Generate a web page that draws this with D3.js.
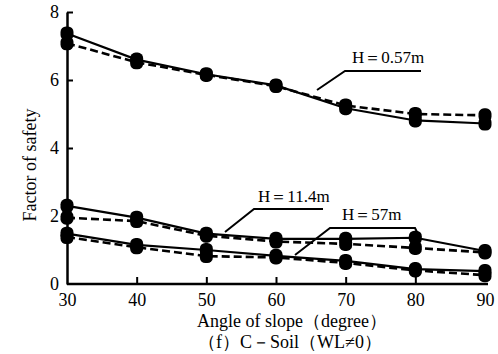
<!DOCTYPE html>
<html>
<head>
<meta charset="utf-8">
<script src="https://cdn.jsdelivr.net/npm/d3@7"></script>
<style>
  body { margin: 0; background: #fff; }
</style>
</head>
<body>
<svg id="chart"></svg>
<script>
var angles = [30, 40, 50, 60, 70, 80, 90];
var yTicks = [0, 2, 4, 6, 8];

// H = 0.57m
var h057Solid  = [7.37, 6.60, 6.17, 5.84, 5.17, 4.81, 4.72];
var h057Dashed = [7.08, 6.52, 6.15, 5.82, 5.25, 5.00, 4.96];
// H = 11.4m
var h114Solid  = [2.30, 1.95, 1.48, 1.33, 1.33, 1.36, 0.97];
var h114Dashed = [1.95, 1.85, 1.42, 1.25, 1.18, 1.06, 0.93];
// H = 57m
var h57Solid   = [1.48, 1.15, 1.00, 0.83, 0.68, 0.44, 0.38];
var h57Dashed  = [1.38, 1.08, 0.82, 0.78, 0.62, 0.40, 0.26];

var serif = "'Liberation Serif', 'Times New Roman', serif";
var width = 498, height = 354;

var svg = d3.select('#chart')
            .attr('width', width)
            .attr('height', height);

var xScale = d3.scaleLinear()
               .domain([30, 90])
               .range([67, 485]);

var yScale = d3.scaleLinear()
               .domain([0, 8])
               .range([284, 12]);

// x axis, ticks pointing inward
var xAxis = d3.axisBottom(xScale)
              .tickValues(angles)
              .tickSizeInner(-7)
              .tickSizeOuter(0)
              .tickPadding(9);

var gx = svg.append('g')
   .attr('transform', 'translate(0,' + yScale(0) + ')')
   .call(xAxis);
gx.select('.domain')
  .attr('d', 'M' + xScale(30) + ',0H' + (xScale(90) + 3))
  .attr('stroke-width', 2.5);
gx.selectAll('.tick line').attr('stroke-width', 2);
gx.selectAll('.tick').filter(function(d){ return d === 30 || d === 90; }).select('line').remove();
gx.selectAll('text')
  .style('font-family', serif)
  .style('font-size', '18px')
  .attr('dy', '0.72em');

var yAxis = d3.axisLeft(yScale)
              .tickValues(yTicks)
              .tickSizeInner(-6)
              .tickSizeOuter(0)
              .tickPadding(8);

var gy = svg.append('g')
   .attr('transform', 'translate(' + xScale(30) + ',0)')
   .call(yAxis);
gy.select('.domain').attr('stroke-width', 2.5);
gy.selectAll('.tick line').attr('stroke-width', 2);
gy.selectAll('.tick').filter(function(d){ return d === 0; }).select('line').remove();
gy.selectAll('text')
  .style('font-family', serif)
  .style('font-size', '18px');

var line = d3.line()
             .x(function(d, i){ return xScale(angles[i]); })
             .y(function(d){ return yScale(d); });

var series = [
  {vals: h057Solid, dash: null},
  {vals: h057Dashed, dash: '8,4'},
  {vals: h114Solid, dash: null},
  {vals: h114Dashed, dash: '8,4'},
  {vals: h57Solid, dash: null},
  {vals: h57Dashed, dash: '8,4'}
];

series.forEach(function(s){
  svg.append('path')
     .datum(s.vals)
     .attr('d', line)
     .attr('fill', 'none')
     .attr('stroke', '#000')
     .attr('stroke-width', s.dash ? 2.6 : 2.2)
     .attr('stroke-dasharray', s.dash);
});

// markers
series.forEach(function(s){
  svg.selectAll(null)
     .data(s.vals)
     .enter()
     .append('rect')
     .attr('x', function(d, i){ return xScale(angles[i]) - 6.5; })
     .attr('y', function(d){ return yScale(d) - 7; })
     .attr('width', 13)
     .attr('height', 14)
     .attr('rx', 5.5)
     .attr('fill', '#000');
});

// labels with leader lines
var labels = [
  {text: 'H＝0.57m', x: 352, y: 63, pts: [[317, 90], [345, 71], [421, 71]]},
  {text: 'H＝11.4m', x: 258, y: 202, pts: [[225, 232], [254, 209], [323, 209]]},
  {text: 'H＝57m', x: 342, y: 220, pts: [[295, 255], [330, 228], [415, 228], [418, 234]]}
];

labels.forEach(function(l){
  svg.append('text')
     .attr('x', l.x)
     .attr('y', l.y)
     .style('font-family', serif)
     .style('font-size', '17px')
     .text(l.text);
  svg.append('path')
     .attr('d', d3.line()(l.pts))
     .attr('fill', 'none')
     .attr('stroke', '#000')
     .attr('stroke-width', 2);
});

svg.append('text')
   .attr('transform', 'translate(36,165) rotate(-90)')
   .attr('text-anchor', 'middle')
   .style('font-family', serif)
   .style('font-size', '18px')
   .text('Factor of safety');

svg.append('text')
   .attr('x', 292)
   .attr('y', 327)
   .attr('text-anchor', 'middle')
   .style('font-family', serif)
   .style('font-size', '18px')
   .text('Angle of slope（degree）');

svg.append('text')
   .attr('x', 290)
   .attr('y', 348)
   .attr('text-anchor', 'middle')
   .style('font-family', serif)
   .style('font-size', '18px')
   .text('（f）C－Soil（WL≠0）');
</script>
</body>
</html>
